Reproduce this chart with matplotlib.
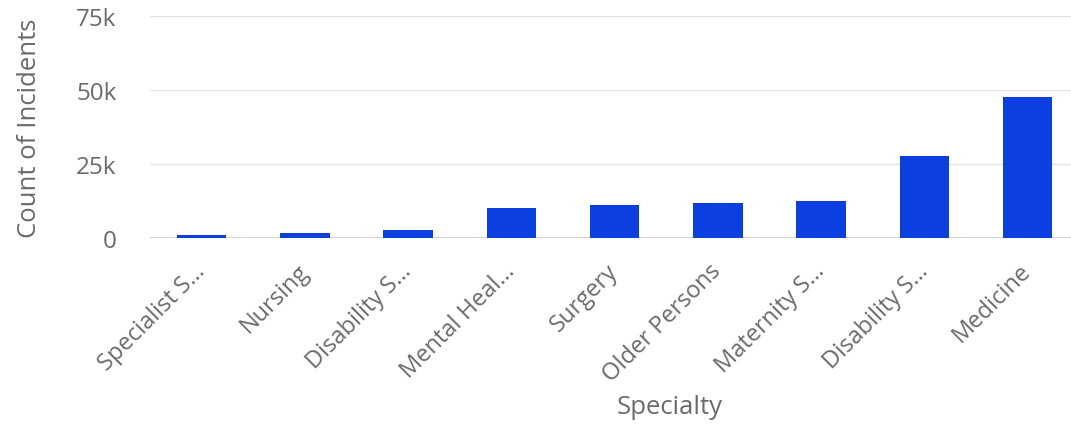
import matplotlib
matplotlib.use("Agg")
import matplotlib.pyplot as plt
from matplotlib.ticker import FuncFormatter

plt.rcParams['font.family'] = ['Open Sans', 'DejaVu Sans']

specialties = ["Specialist S…", "Nursing", "Disability S…", "Mental Heal…", "Surgery",
               "Older Persons", "Maternity S…", "Disability S…", "Medicine"]
incidents = [1000, 1700, 2800, 10300, 11200, 11900, 12500, 27800, 47700]
y_ticks = [0, 25000, 50000, 75000]

text_grey = '#6b6b6b'
bar_blue = '#0b3fdf'

fig = plt.figure(figsize=(10.71, 4.27), dpi=100)
ax = fig.add_axes([150 / 1071, 1 - 239 / 427, (1071 - 150) / 1071, (239 - 17) / 427])

x = range(len(specialties))
ax.bar(x, incidents, width=0.48, color=bar_blue, zorder=3)

ax.set_xlim(-0.5, 8.42)
ax.set_ylim(0, 75000)
ax.set_yticks(y_ticks)
ax.yaxis.set_major_formatter(FuncFormatter(lambda v, p: '0' if v == 0 else f'{int(v / 1000)}k'))
ax.grid(axis='y', color='#e5e5e5', linewidth=1, zorder=0)
ax.axhline(0, color='#cccccc', linewidth=1.2, zorder=2)

for s in ax.spines.values():
    s.set_visible(False)
ax.tick_params(axis='both', length=0, colors=text_grey)
ax.tick_params(axis='y', pad=24, labelsize=17.5)

ax.set_xticks(list(x))
ax.set_xticklabels(specialties, rotation=45, ha='right', va='center',
                   rotation_mode='anchor', color=text_grey, fontsize=17)
ax.tick_params(axis='x', pad=21)

ax.set_ylabel('Count of Incidents', color=text_grey, fontsize=18.5)
ax.yaxis.set_label_coords(-0.117, 0.5)
ax.set_xlabel('Specialty', color=text_grey, fontsize=18.5)
ax.xaxis.set_label_coords((670 - 150) / (1071 - 150), -(395 - 239) / (239 - 17))

fig.savefig('out.png', dpi=100)
